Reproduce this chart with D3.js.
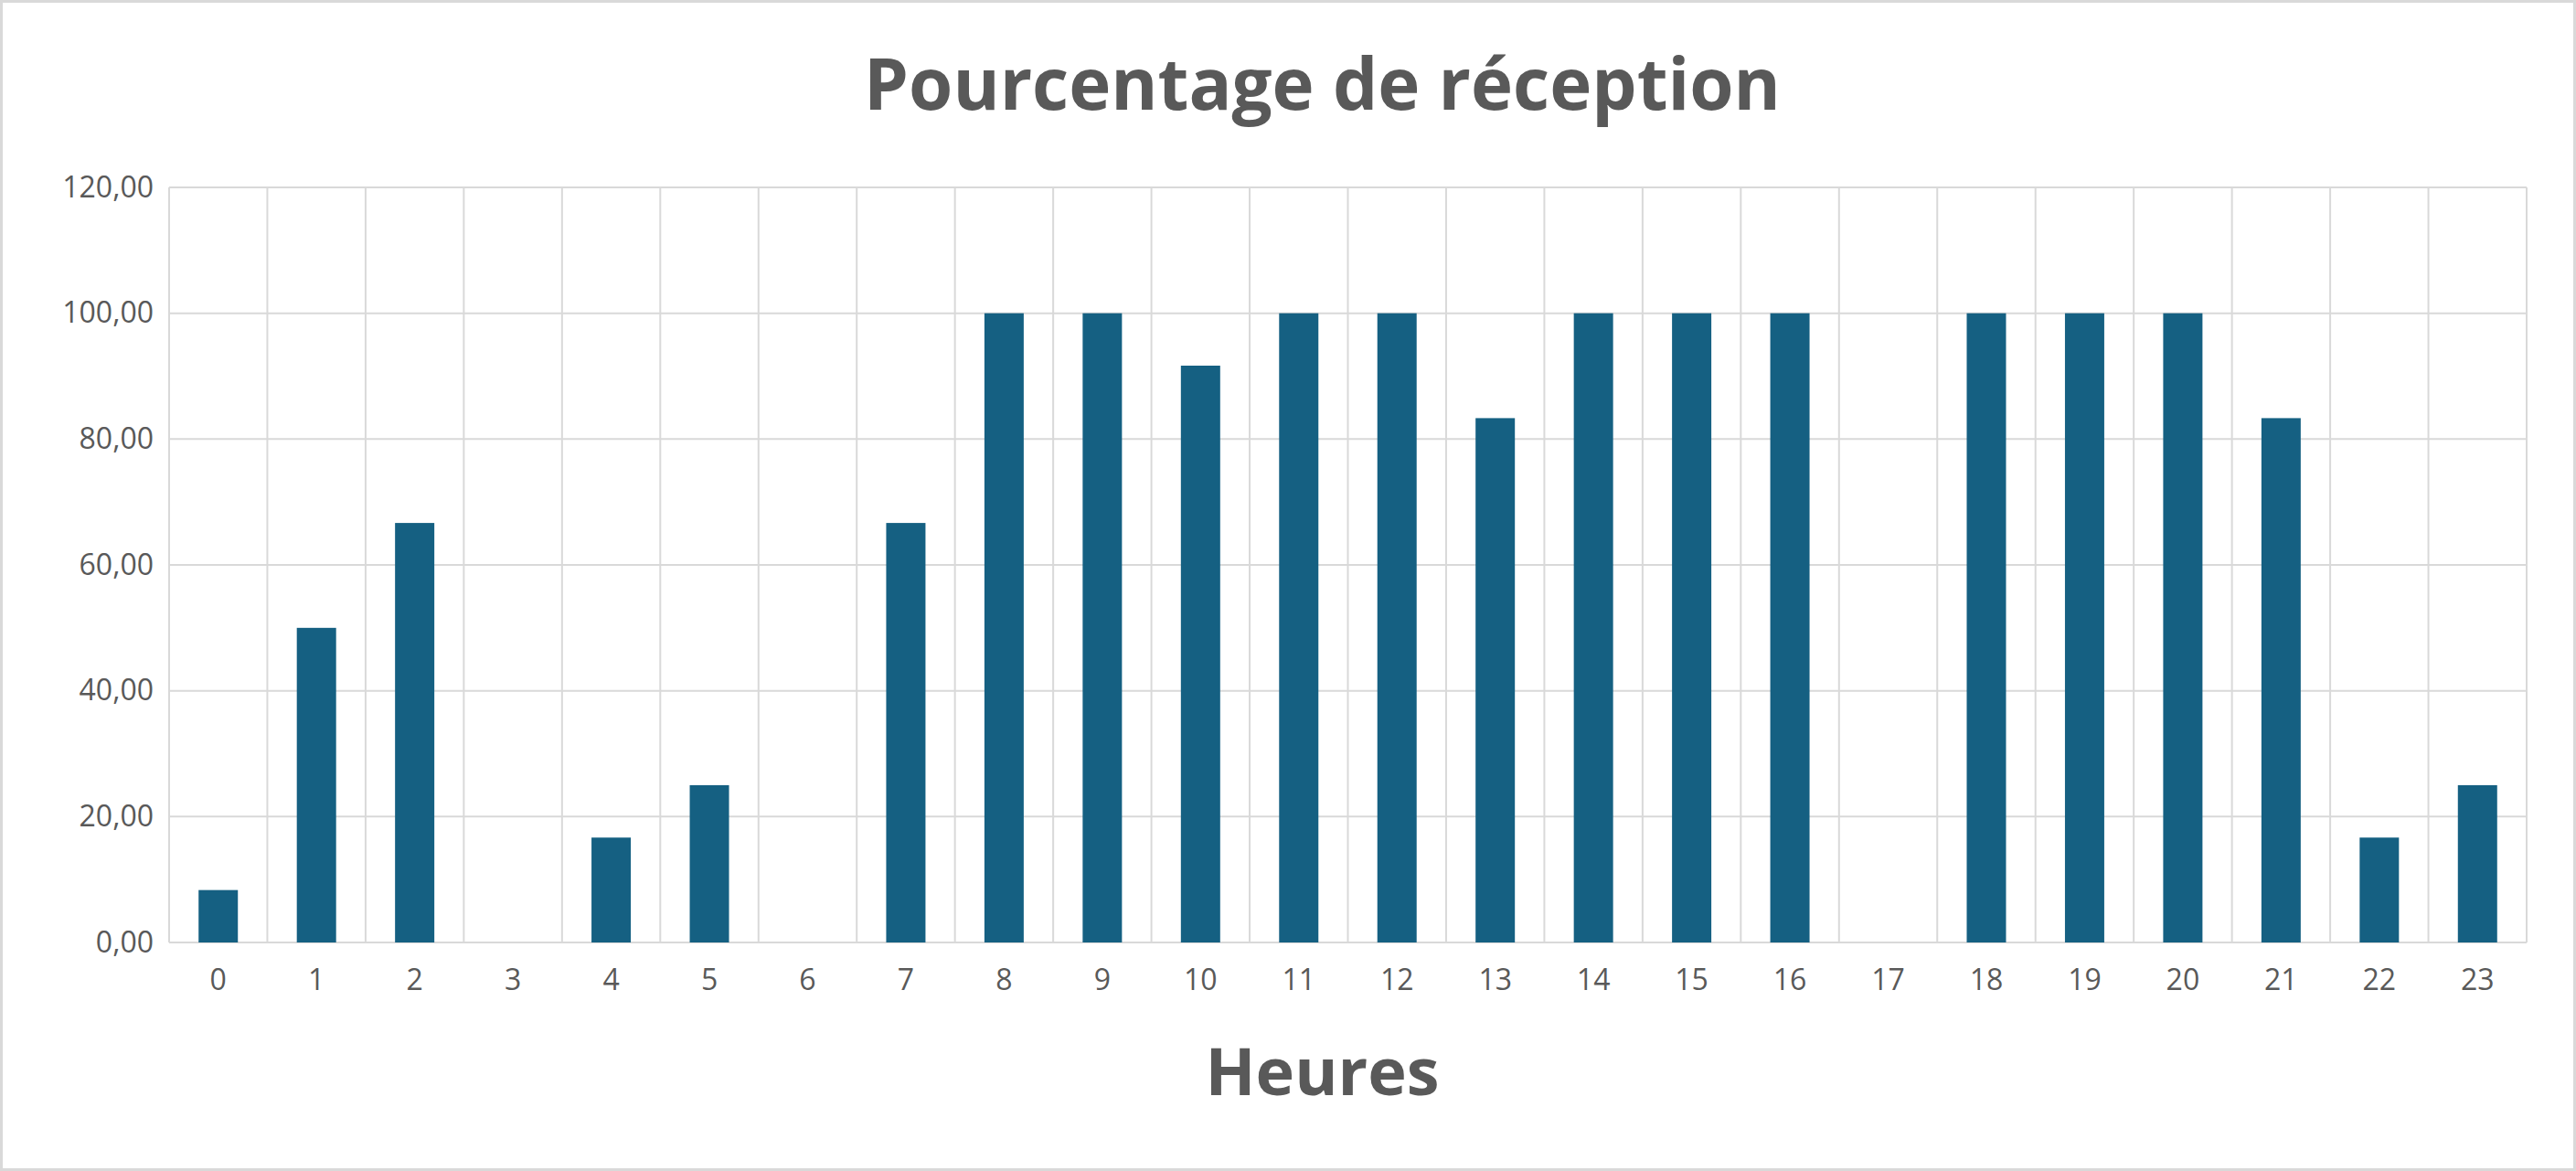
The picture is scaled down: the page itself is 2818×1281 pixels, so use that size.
<!DOCTYPE html>
<html>
<head>
<meta charset="utf-8">
<script src="https://cdn.jsdelivr.net/npm/d3@7"></script>
<style>
  body { margin: 0; background: #fff; }
  svg { display: block; font-family: "Open Sans", "Noto Sans", sans-serif; }
</style>
</head>
<body>
<div id="chart"></div>
<script>
// Heures et pourcentages
var hours = ["0","1","2","3","4","5","6","7","8","9","10","11","12","13","14","15","16","17","18","19","20","21","22","23"];
var values = [8.33, 50, 66.67, 0, 16.67, 25, 0, 66.67, 100, 100, 91.67, 100, 100, 83.33, 100, 100, 100, 0, 100, 100, 100, 83.33, 16.67, 25];
var yTicks = [0, 20, 40, 60, 80, 100, 120];

var width = 2818, height = 1281;
var margin = { top: 205, right: 54, bottom: 250, left: 185 };

var svg = d3.select("#chart").append("svg")
    .attr("width", width)
    .attr("height", height);

// cadre extérieur
svg.append("rect")
    .attr("x", 1.5).attr("y", 1.5)
    .attr("width", width - 3).attr("height", height - 3)
    .attr("fill", "#fff").attr("stroke", "#d9d9d9").attr("stroke-width", 3);

var x = d3.scaleBand().domain(hours)
    .range([margin.left, width - margin.right])
    .paddingInner(0.6).paddingOuter(0.3);

var y = d3.scaleLinear().domain([0, 120])
    .range([height - margin.bottom, margin.top]);

var step = x.step();
var x0 = margin.left, x1 = width - margin.right;

// grille horizontale
svg.append("g").selectAll("line").data(yTicks).enter().append("line")
    .attr("x1", x0).attr("x2", x1)
    .attr("y1", d => y(d)).attr("y2", d => y(d))
    .attr("stroke", "#d9d9d9").attr("stroke-width", 2);

// grille verticale aux limites des catégories
var bounds = d3.range(hours.length + 1);
svg.append("g").selectAll("line").data(bounds).enter().append("line")
    .attr("x1", i => x0 + i * (x1 - x0) / hours.length)
    .attr("x2", i => x0 + i * (x1 - x0) / hours.length)
    .attr("y1", y(120)).attr("y2", y(0))
    .attr("stroke", "#d9d9d9").attr("stroke-width", 2);

// barres
svg.append("g").selectAll("rect").data(values).enter().append("rect")
    .attr("x", (d, i) => x(hours[i]))
    .attr("width", x.bandwidth())
    .attr("y", d => y(d))
    .attr("height", d => y(0) - y(d))
    .attr("fill", "#156082");

// axe Y
var fmt = d => d3.format(".2f")(d).replace(".", ",");
var yAxis = svg.append("g")
    .attr("transform", "translate(" + (x0 - 14) + ",0)")
    .call(d3.axisLeft(y).tickValues(yTicks).tickFormat(fmt).tickSize(0));
yAxis.select(".domain").remove();
yAxis.selectAll("text").attr("font-size", 32).attr("fill", "#595959")
    .attr("font-family", "Open Sans, sans-serif");

// axe X
var xAxis = svg.append("g")
    .attr("transform", "translate(0," + (y(0) + 20) + ")")
    .call(d3.axisBottom(x).tickSize(0));
xAxis.select(".domain").remove();
xAxis.selectAll("text").attr("font-size", 32).attr("fill", "#595959")
    .attr("dy", "0.9em").attr("font-family", "Open Sans, sans-serif");

// titres
svg.append("text")
    .attr("x", (x0 + x1) / 2 - 28).attr("y", 120)
    .attr("text-anchor", "middle")
    .attr("font-size", 78).attr("font-weight", "bold").attr("fill", "#595959")
    .text("Pourcentage de réception");

svg.append("text")
    .attr("x", (x0 + x1) / 2 - 28).attr("y", 1198)
    .attr("text-anchor", "middle")
    .attr("font-size", 72).attr("font-weight", "bold").attr("fill", "#595959")
    .text("Heures");
</script>
</body>
</html>
